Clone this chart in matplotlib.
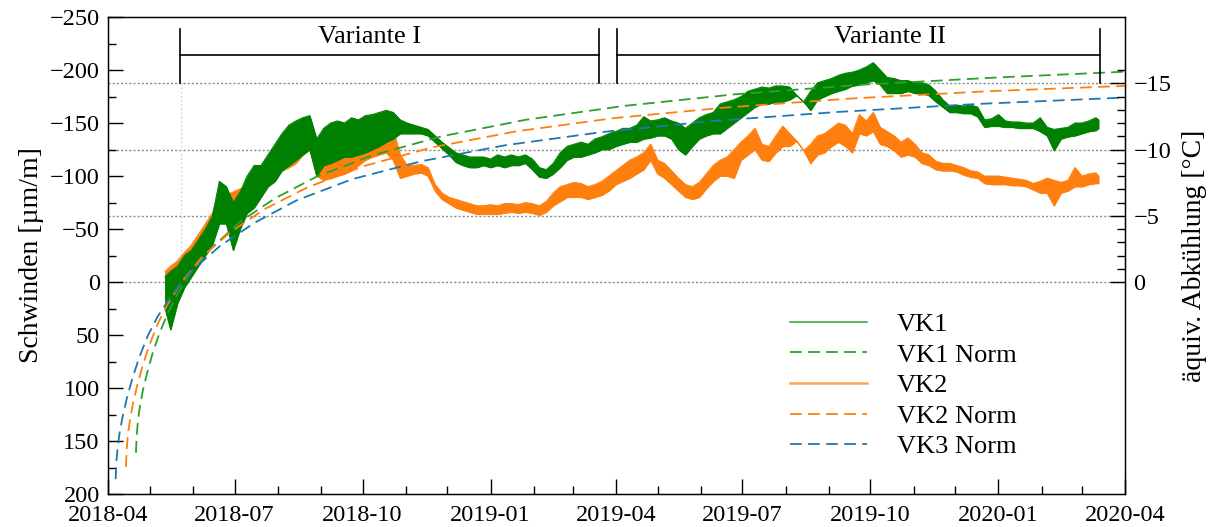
import numpy as np
import pandas as pd
import matplotlib
matplotlib.use("Agg")
import matplotlib.pyplot as plt
import matplotlib.dates as mdates
from matplotlib.lines import Line2D
from matplotlib.ticker import MultipleLocator, FixedLocator

plt.rcParams["font.family"] = ["Liberation Serif", "DejaVu Serif"]
plt.rcParams["font.size"] = 17

t0 = pd.Timestamp("2018-04-01")

# Messung VK1 / VK2: Tage ab 01.04.2018, obere und untere Kante des Messbands [µm/m]
tage_mess = [41, 45, 50, 55, 60, 65, 70, 75, 80, 85, 90, 95, 100, 105, 110, 115, 120,
             125, 130, 135, 140, 145, 150, 155, 160, 165, 170, 175, 180, 185, 190, 195,
             200, 205, 210, 215, 220, 225, 230, 235, 240, 245, 250, 255, 260, 265, 270,
             275, 280, 285, 290, 295, 300, 305, 310, 315, 320, 325, 330, 335, 340, 345,
             350, 355, 360, 365, 370, 375, 380, 385, 390, 395, 400, 405, 410, 415, 420,
             425, 430, 435, 440, 445, 450, 455, 460, 465, 470, 475, 480, 485, 490, 495,
             500, 505, 510, 515, 520, 525, 530, 535, 540, 545, 550, 555, 560, 565, 570,
             575, 580, 585, 590, 595, 600, 605, 610, 615, 620, 625, 630, 635, 640, 645,
             650, 655, 660, 665, 670, 675, 680, 685, 690, 695, 700, 705, 710, 712]

vk1_oben = [-5, -10, -15, -25, -30, -40, -50, -62, -95, -90, -75, -85, -100, -110, -110,
            -120, -130, -140, -148, -152, -155, -157, -135, -145, -150, -152, -150, -155,
            -153, -157, -158, -160, -162, -160, -153, -150, -148, -146, -144, -138, -132,
            -127, -122, -120, -118, -118, -118, -116, -120, -118, -120, -118, -120, -116,
            -108, -106, -112, -122, -128, -130, -132, -130, -135, -137, -140, -142, -145,
            -145, -148, -156, -152, -153, -155, -152, -150, -145, -150, -155, -158, -160,
            -168, -170, -172, -175, -180, -182, -184, -183, -185, -185, -184, -176, -170,
            -180, -188, -190, -192, -195, -197, -198, -200, -203, -207, -200, -193, -192,
            -190, -190, -188, -188, -186, -180, -172, -166, -167, -166, -167, -165, -153,
            -154, -158, -152, -151, -151, -150, -150, -155, -146, -144, -145, -146, -150,
            -150, -152, -155, -153]
vk1_unten = [25, 45, 20, 5, -5, -15, -25, -35, -55, -55, -30, -50, -65, -70, -80, -90,
             -95, -105, -110, -115, -120, -125, -100, -110, -112, -115, -118, -118, -120,
             -122, -125, -128, -132, -135, -140, -140, -140, -140, -138, -132, -126, -120,
             -113, -110, -108, -108, -110, -108, -110, -108, -110, -110, -112, -106, -99,
             -98, -102, -108, -115, -118, -118, -120, -122, -125, -125, -128, -130, -132,
             -132, -135, -136, -138, -138, -135, -125, -120, -128, -135, -138, -140, -140,
             -145, -150, -155, -160, -165, -168, -168, -170, -170, -172, -176, -170, -162,
             -172, -175, -178, -180, -182, -185, -186, -188, -190, -186, -178, -178, -178,
             -180, -178, -178, -176, -170, -165, -160, -160, -159, -159, -156, -146, -147,
             -147, -146, -146, -145, -145, -145, -142, -138, -124, -135, -137, -138, -140,
             -142, -143, -145]

vk2_oben = [-10, -15, -20, -28, -35, -45, -55, -65, -85, -82, -85, -88, -90, -95, -103,
            -106, -115, -122, -125, -130, -140, -152, -130, -112, -112, -115, -118, -122,
            -126, -130, -134, -138, -140, -143, -120, -110, -110, -111, -108, -92, -84,
            -80, -78, -76, -74, -72, -72, -73, -72, -74, -74, -73, -75, -74, -72, -76,
            -84, -90, -92, -94, -93, -90, -92, -95, -100, -105, -110, -115, -118, -122,
            -130, -115, -112, -105, -98, -92, -90, -94, -102, -110, -115, -118, -125,
            -132, -138, -145, -130, -128, -138, -147, -140, -133, -124, -130, -138, -140,
            -145, -150, -148, -140, -158, -152, -160, -146, -142, -138, -132, -136, -130,
            -122, -120, -114, -112, -112, -110, -108, -105, -104, -100, -100, -100, -99,
            -98, -97, -96, -93, -95, -98, -96, -94, -96, -108, -100, -102, -103, -100]
vk2_unten = [15, 10, 0, -8, -15, -22, -32, -42, -65, -62, -68, -72, -74, -80, -88, -92,
             -100, -105, -108, -112, -120, -125, -100, -96, -98, -100, -102, -105, -110,
             -115, -118, -120, -122, -115, -98, -100, -102, -103, -100, -86, -78, -74,
             -70, -68, -66, -64, -64, -64, -64, -65, -66, -65, -66, -65, -63, -66, -72,
             -76, -80, -80, -80, -78, -80, -82, -86, -92, -95, -98, -102, -106, -115,
             -102, -98, -92, -86, -80, -78, -80, -88, -95, -100, -100, -98, -115, -120,
             -125, -115, -114, -122, -128, -128, -133, -124, -112, -120, -122, -128, -132,
             -128, -122, -140, -138, -142, -130, -128, -124, -118, -120, -118, -112, -110,
             -106, -105, -105, -104, -101, -99, -98, -93, -92, -92, -92, -91, -91, -90,
             -87, -84, -84, -72, -84, -86, -90, -90, -92, -93, -93]

# Normkurven: Tage ab 01.04.2018 und Schwinden [µm/m]
tage_vk1_norm = [20.1, 20.6, 21.6, 23.1, 25.1, 28.1, 32.1, 37.1, 43.1, 50.1, 60.1, 75.1,
                 95.1, 120.1, 150.1, 190.1, 240.1, 300.1, 370.1, 450.1, 540.1, 640.1, 731]
vk1_norm = [161, 145, 130, 116, 102, 86, 67, 48, 29, 11, -10, -33, -57, -79, -99.5,
            -119.5, -137.5, -153, -166, -177, -186, -193, -198.4]

tage_vk2_norm = [12.9, 13.4, 14.4, 15.9, 17.9, 20.9, 24.9, 29.9, 35.9, 42.9, 52.9, 67.9,
                 87.9, 112.9, 142.9, 182.9, 232.9, 292.9, 362.9, 442.9, 532.9, 632.9, 731]
vk2_norm = [174.5, 158, 143, 129, 115, 98, 79, 59, 39, 21, 0, -24, -47, -69, -89, -109,
            -127, -142, -154.5, -164.5, -173, -180, -185]

tage_vk3_norm = [5.5, 6, 7, 8.5, 10.5, 13.5, 17.5, 22.5, 28.5, 35.5, 45.5, 60.5, 80.5,
                 105.5, 135.5, 175.5, 225.5, 285.5, 355.5, 435.5, 525.5, 625.5, 731]
vk3_norm = [186, 170, 155, 141, 127, 110, 91, 71, 51, 33, 13, -11, -34, -56, -77, -97,
            -114, -129, -141.5, -152, -160.5, -168, -174]

# Versuchsvarianten
varianten = ["Variante I", "Variante II"]
var_start = ["2018-05-23", "2019-04-02"]
var_ende = ["2019-03-20", "2020-03-14"]
var_text_x = ["2018-10-06", "2019-10-15"]

# Umrechnung Dehnung -> aequivalente Temperatur (alpha_T = 12.5e-6 1/K)
alpha_t = 12.5


def zu_datum(tage):
    return t0 + pd.to_timedelta(np.asarray(tage, dtype=float), unit="D")


gruen = "#008000"
gruen_norm = "#2ca02c"
orange = "#ff7f0e"
blau = "#1f77b4"

fig = plt.figure(figsize=(12.23, 5.27), dpi=100)
ax = fig.add_axes([108 / 1223, 33 / 527, 1017 / 1223, 477 / 527])

# Hilfslinien bei 0, -5, -10, -15 °C
for t in [0, -5, -10, -15]:
    ax.axhline(t * alpha_t, color="0.55", linestyle=(0, (1.5, 1.5)), lw=1.0, zorder=1)
ax.plot(zu_datum([52.5, 52.5]), [-187.5, 0], color="0.8", linestyle=(0, (1, 2)),
        lw=1.0, zorder=1)

x_mess = zu_datum(tage_mess)
ax.fill_between(x_mess, vk2_oben, vk2_unten, color=orange, lw=0.6, zorder=2)
ax.plot(x_mess, vk2_oben, color=orange, lw=0.7, zorder=2)
ax.plot(x_mess, vk2_unten, color=orange, lw=0.7, zorder=2)
ax.fill_between(x_mess, vk1_oben, vk1_unten, color=gruen, lw=0.6, zorder=3)
ax.plot(x_mess, vk1_oben, color=gruen, lw=0.7, zorder=3)
ax.plot(x_mess, vk1_unten, color=gruen, lw=0.7, zorder=3)

strich = (0, (6.5, 3.5))
ax.plot(zu_datum(tage_vk1_norm), vk1_norm, color=gruen_norm, lw=1.3, linestyle=strich, zorder=4)
ax.plot(zu_datum(tage_vk2_norm), vk2_norm, color=orange, lw=1.3, linestyle=strich, zorder=4)
ax.plot(zu_datum(tage_vk3_norm), vk3_norm, color=blau, lw=1.3, linestyle=strich, zorder=4)

# Klammern fuer die Varianten
for name, a, e, tx in zip(varianten, var_start, var_ende, var_text_x):
    a, e = pd.Timestamp(a), pd.Timestamp(e)
    ax.plot([a, e], [-214, -214], color="black", lw=1.2, zorder=5)
    ax.plot([a, a], [-188, -239], color="black", lw=1.2, zorder=5)
    ax.plot([e, e], [-188, -239], color="black", lw=1.2, zorder=5)
    ax.text(pd.Timestamp(tx), -231, name, ha="center", va="center", fontsize=19)

ax.set_xlim(pd.Timestamp("2018-04-01"), pd.Timestamp("2020-04-01"))
ax.set_ylim(200, -250)
ax.xaxis.set_major_locator(mdates.MonthLocator(bymonth=[1, 4, 7, 10]))
ax.xaxis.set_minor_locator(mdates.MonthLocator())
ax.xaxis.set_major_formatter(mdates.DateFormatter("%Y-%m"))
ax.yaxis.set_major_locator(MultipleLocator(50))
ax.yaxis.set_minor_locator(MultipleLocator(25))
ax.tick_params(which="both", direction="in", top=False, right=False, width=1.0)
ax.tick_params(which="major", length=11, labelsize=17.5)
ax.tick_params(which="minor", length=6)
ax.tick_params(axis="x", pad=8)
ax.tick_params(axis="y", pad=6)
ax.set_ylabel("Schwinden [µm/m]", fontsize=20, labelpad=4)
for s in ax.spines.values():
    s.set_linewidth(1.0)

ax2 = ax.twinx()
ax2.set_ylim(200 / alpha_t, -250 / alpha_t)
ax2.yaxis.set_major_locator(FixedLocator([0, -5, -10, -15]))
ax2.yaxis.set_minor_locator(FixedLocator(list(range(-16, 1))))
ax2.tick_params(which="both", direction="in", width=1.0)
ax2.tick_params(which="major", length=11, labelsize=17.5, pad=6)
ax2.tick_params(which="minor", length=6)
ax2.set_ylabel("äquiv. Abkühlung [°C]", fontsize=20, labelpad=8)

handles = [
    Line2D([], [], color=gruen_norm, lw=1.1),
    Line2D([], [], color=gruen_norm, lw=1.3, linestyle=strich),
    Line2D([], [], color="#ffa64d", lw=1.8),
    Line2D([], [], color=orange, lw=1.3, linestyle=strich),
    Line2D([], [], color=blau, lw=1.3, linestyle=strich),
]
labels = ["VK1", "VK1 Norm", "VK2", "VK2 Norm", "VK3 Norm"]
ax.legend(handles, labels, loc="center left", bbox_to_anchor=(0.6706, 0.2275),
          frameon=False, fontsize=19, handlelength=2.9, handletextpad=1.15,
          labelspacing=0.27, borderpad=0, borderaxespad=0)

fig.savefig("out.png", dpi=100)
